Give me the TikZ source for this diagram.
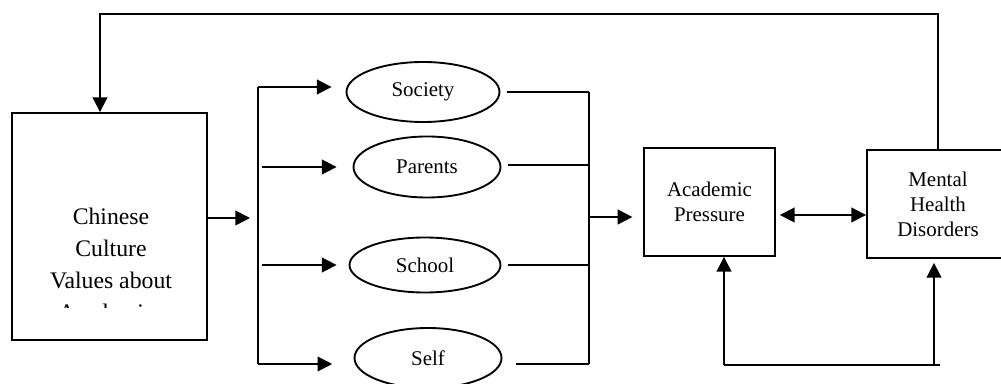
\documentclass[tikz,border=0pt]{standalone}
\usepackage{fontspec}
\setmainfont{Liberation Serif}
\usetikzlibrary{arrows.meta,shapes.geometric}
\tikzset{
  box/.style={draw, inner sep=0pt},
  factor/.style={draw, ellipse, inner sep=0pt},
  small/.style={font=\fontsize{15.7}{18.8}\selectfont, align=center},
}
\begin{document}
\begin{tikzpicture}[x=0.75pt, y=-0.75pt, >={Triangle[length=11pt,width=11pt]}, line width=1.4pt]
\useasboundingbox (0,0) rectangle (1001,384);

% boxes
\node[box, minimum width=146.25pt, minimum height=170.25pt] (culture) at (109.5,226.5) {};
\begin{scope}
\clip (12,113) rectangle (207,308);
\node[font=\fontsize{17.8}{24}\selectfont, align=center] (culturetext) at (111,264) {Chinese\\Culture\\Values about\\Academics};
\end{scope}
\node[box, small, minimum width=98.25pt, minimum height=81pt] (academic) at (709.5,202) {Academic\\Pressure};
\node[box, small, minimum width=106.5pt, minimum height=81pt] (mental) at (938,204) {Mental\\Health\\Disorders};

% the four sources
\foreach \nm/\txt/\x/\y/\w/\h in {society/Society/423/92/114.75/45, parents/Parents/427/167/110.25/45.75,
  school/School/425/265/113.25/41.25, self/Self/428/358/110.25/45}
  \node[factor, small, minimum width=\w pt, minimum height=\h pt] (\nm) at (\x,\y) {\txt};

% split and join
\coordinate (split) at (258,218);
\coordinate (splittop) at (258,87);
\coordinate (splitbot) at (258,364);
\coordinate (jointop) at (589,92);
\coordinate (joinbot) at (589,364);
\coordinate (joinmid) at (589,217);
\draw[->, shorten >=6pt] (culture.east |- split) -- (split);
\draw (splittop) -- (splitbot);
\draw (jointop) -- (joinbot);
\foreach \nm/\ya/\yb/\sa/\sc/\sb in {society/87/92/0/10.5/5, parents/167/165/3/12/5,
  school/265/265/3/9/5, self/364/364/0/16/10}
{
  \coordinate (in-\nm) at (258,\ya);
  \coordinate (out-\nm) at (589,\yb);
  \draw[->, shorten <=\sa pt, shorten >=\sc pt] (in-\nm) -- (in-\nm -| \nm.west);
  \draw[shorten <=\sb pt] (out-\nm -| \nm.east) -- (out-\nm);
}
\draw[->, shorten >=8pt] (joinmid) -- (joinmid -| academic.west);

% links between pressure and disorders
\coordinate (link) at (820,215);
\draw[<->, shorten <=3pt] (link -| academic.east) -- (link -| mental.west);
\coordinate (fbcorner) at (100,14);
\draw[->] (mental.north) |- (fbcorner) -- (fbcorner |- culture.north);
\coordinate (loopleft) at (724,365);
\coordinate (loopright) at (940,365);
\coordinate (loopup) at (934,365);
\draw[->] (loopleft) -- (loopleft |- academic.south);
\draw (loopleft) -- (loopright);
\draw[->, shorten >=3pt] (loopup) -- (loopup |- mental.south);
\end{tikzpicture}
\end{document}
